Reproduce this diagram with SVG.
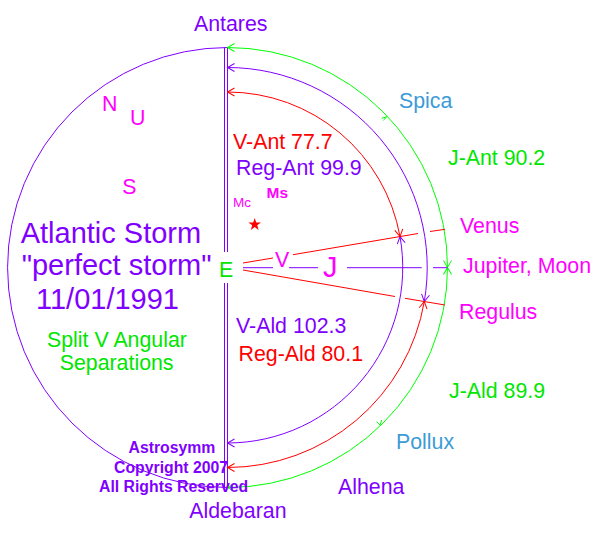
<svg xmlns="http://www.w3.org/2000/svg" width="598" height="540" viewBox="0 0 598 540">
<style>
text{font-family:"Liberation Sans",Arial,sans-serif;font-size:21.33px}
.pu{fill:#8000FF}.rd{fill:#FF0000}.gr{fill:#00E600}.mg{fill:#FF00FF}.bl{fill:#3C9BD6}
.big{font-size:29px}
.bold{font-weight:bold;font-size:15.8px}
.ln{fill:none;stroke-width:1}
.sp{stroke:#8000FF}.sr{stroke:#FF0000}.sg{stroke:#00FF00}
</style>
<defs>
<marker id="ap" markerUnits="userSpaceOnUse" orient="auto-start-reverse" refX="0" refY="0" markerWidth="10" markerHeight="10" overflow="visible"><path d="M-7,-4 L0,0 L-7,4" fill="none" stroke="#8000FF"/></marker>
<marker id="ar" markerUnits="userSpaceOnUse" orient="auto-start-reverse" refX="0" refY="0" markerWidth="10" markerHeight="10" overflow="visible"><path d="M-7,-4 L0,0 L-7,4" fill="none" stroke="#FF0000"/></marker>
<marker id="ag" markerUnits="userSpaceOnUse" orient="auto-start-reverse" refX="0" refY="0" markerWidth="10" markerHeight="10" overflow="visible"><path d="M-7,-4 L0,0 L-7,4" fill="none" stroke="#00FF00"/></marker>
</defs>

<g id="frame">
<path class="ln sp" d="M227.5,47.5 A220 220 0 0 0 227.5,487.5"/>
<path class="ln sp" d="M224.5,47.5 V252 M224.5,283 V488 M227.5,47.5 V252 M227.5,283 V488"/>
</g>

<g id="connectors">
<path id="j-ant" class="ln sg" d="M227.5,47.5 A220 220 0 0 1 447.5,267.5" marker-start="url(#ag)" marker-end="url(#ag)"/>
<path id="j-ald" class="ln sg" d="M447.5,267.5 A220 220 0 0 1 227.5,487.5" marker-start="url(#ag)" marker-end="url(#ag)"/>
<path id="reg-ant" class="ln sp" d="M227.5,67.5 A200 200 0 0 1 424.3,301.5" marker-start="url(#ap)" marker-end="url(#ap)"/>
<path id="reg-ald" class="ln sr" d="M424.3,301.5 A200 200 0 0 1 227.5,467.5" marker-start="url(#ar)" marker-end="url(#ar)"/>
<path id="v-ant" class="ln sr" d="M227.5,92 A175.5 175.5 0 0 1 400,236.6" marker-start="url(#ar)" marker-end="url(#ar)"/>
<path id="v-ald" class="ln sp" d="M400,236.6 A175.5 175.5 0 0 1 227.5,443" marker-start="url(#ap)" marker-end="url(#ap)"/>
<path id="venus-line" class="ln sr" d="M243,263 L273,258 M293,254.7 L418,233.5 M430,231.5 L445,229.3"/>
<path id="regulus-line" class="ln sr" d="M243,270 L395,296.5 M405,298.3 L445,305"/>
<path id="jupiter-line" class="ln sp" d="M243,267.7 H273 M289,267.7 H318 M347,267.7 H421.7 M433,267.7 H447.5"/>
<path id="spica-tick" class="ln sg" d="M381.7,118.3 L386.7,116.7 M383.3,120.5 L386.7,116.7"/>
<path id="pollux-tick" class="ln sg" d="M376.7,421.7 L380,425 M381.7,420 L380,425"/>
</g>

<g id="star"><polygon fill="#FF0000" points="254.7,218 256.2,222.5 261,222.5 257.2,225.3 258.6,229.9 254.7,227.1 250.8,229.9 252.2,225.3 248.4,222.5 253.2,222.5"/></g>

<g id="antares"><text class="pu" x="194" y="31">Antares</text></g>
<g id="aldebaran"><text class="pu" x="189.3" y="518">Aldebaran</text></g>
<g id="spica"><text class="bl" x="399" y="108.3">Spica</text></g>
<g id="pollux"><text class="bl" x="396" y="449.3">Pollux</text></g>
<g id="alhena"><text class="pu" x="338" y="494.3">Alhena</text></g>
<g id="j-ant-label"><text class="gr" x="448" y="165">J-Ant 90.2</text></g>
<g id="j-ald-label"><text class="gr" x="449" y="398.3">J-Ald 89.9</text></g>
<g id="venus"><text class="mg" x="460" y="233.3">Venus</text></g>
<g id="jupiter"><text class="mg" x="463" y="272.5">Jupiter, Moon</text></g>
<g id="regulus"><text class="mg" x="459" y="319">Regulus</text></g>
<g id="v-ant-label"><text class="rd" x="233" y="149.3">V-Ant 77.7</text></g>
<g id="reg-ant-label"><text class="pu" x="236" y="175">Reg-Ant 99.9</text></g>
<g id="v-ald-label"><text class="pu" x="236" y="332.7">V-Ald 102.3</text></g>
<g id="reg-ald-label"><text class="rd" x="238.5" y="361">Reg-Ald 80.1</text></g>
<g id="ms"><text class="mg" x="266.5" y="198.3" style="font-size:15.5px;font-weight:bold">Ms</text></g>
<g id="mc"><text class="mg" x="233" y="206.7" style="font-size:13.5px">Mc</text></g>
<g id="n"><text class="mg" x="102" y="110.7">N</text></g>
<g id="u"><text class="mg" x="130" y="125">U</text></g>
<g id="s"><text class="mg" x="122.3" y="194.3">S</text></g>
<g id="e"><text class="gr" x="219" y="276.7">E</text></g>
<g id="v"><text class="mg" x="275" y="266.7">V</text></g>
<g id="j"><text class="mg big" x="323" y="277.3">J</text></g>
<g id="title">
<text class="pu big" x="20.7" y="243.3">Atlantic Storm</text>
<text class="pu big" x="21.7" y="275">"perfect storm"</text>
<text class="pu big" x="36" y="309.3">11/01/1991</text>
</g>
<g id="subtitle">
<text class="gr" x="47" y="346.7">Split V Angular</text>
<text class="gr" x="59.7" y="370">Separations</text>
</g>
<g id="copyright">
<text class="pu bold" x="128.5" y="453.3">Astrosymm</text>
<text class="pu bold" x="114" y="472.7">Copyright 2007</text>
<text class="pu bold" x="99" y="491.7">All Rights Reserved</text>
</g>
</svg>
